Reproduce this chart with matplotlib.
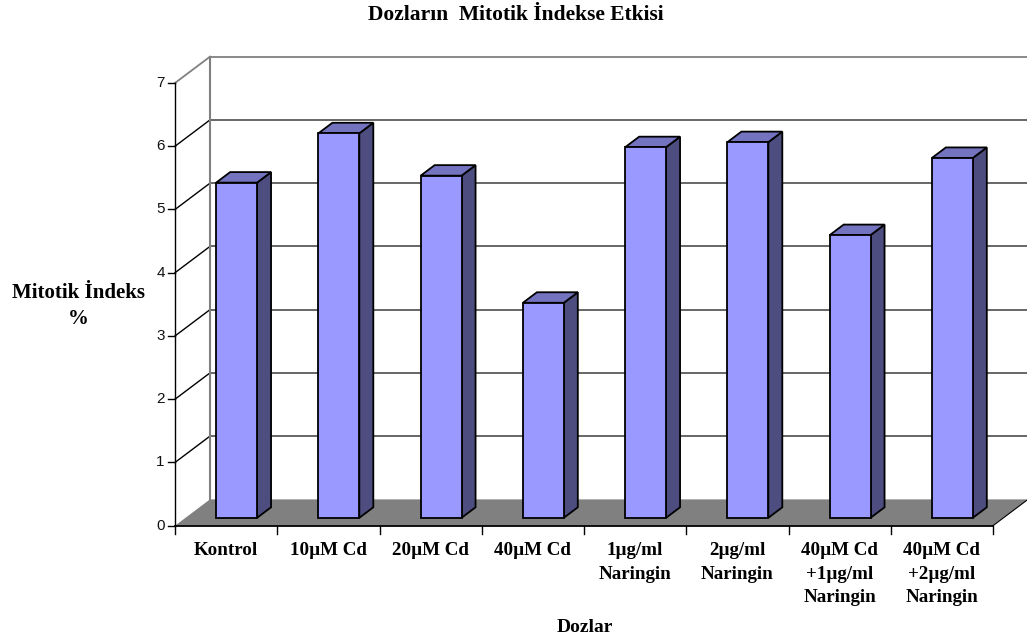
import matplotlib
matplotlib.use("Agg")
import matplotlib.pyplot as plt
from matplotlib.patches import Polygon

# mitotic index (%) for each dose group
categories = ["Kontrol", "10µM Cd", "20µM Cd", "40µM Cd", "1µg/ml\nNaringin",
              "2µg/ml\nNaringin", "40µM Cd\n+1µg/ml\nNaringin", "40µM Cd\n+2µg/ml\nNaringin"]
values = [5.30, 6.08, 5.41, 3.40, 5.86, 5.94, 4.47, 5.69]
yticks = [0, 1, 2, 3, 4, 5, 6, 7]

FRONT = "#9999ff"
TOP = "#7373bf"
SIDE = "#4d4d80"
FLOOR = "#808080"
WALL = "#808080"

# depth offset of the back wall, in data units (x in category slots, y in %)
DX = 0.342
DY = 0.416
BAR_W = 0.40
D0, D1 = 0.3, 0.7  # bar front / back depth fraction

fig = plt.figure(figsize=(10.27, 6.42), dpi=100)
ax = fig.add_axes([175 / 1027, 116.3 / 642, 818 / 1027, 442.7 / 642])
ax.set_xlim(0, len(categories))
ax.set_ylim(0, 7)
ax.axis("off")

n = len(categories)
serif = dict(family="Liberation Serif", weight="bold")

# back wall gridlines and side-wall diagonals
for v in yticks[1:]:
    col = WALL if v == yticks[-1] else "#5a5a5a"
    ax.plot([DX, n + DX], [v + DY, v + DY], color=col, lw=1.3, clip_on=False, zorder=1)
    ax.plot([0, DX], [v, v + DY], color=WALL if v == yticks[-1] else "black",
            lw=1.0 if v < yticks[-1] else 1.3, clip_on=False, zorder=1)
ax.plot([DX, DX], [DY, 7 + DY], color=WALL, lw=1.5, clip_on=False, zorder=1)

# floor
ax.add_patch(Polygon([(0, 0), (n, 0), (n + DX, DY), (DX, DY)], closed=True,
                     facecolor=FLOOR, edgecolor="none", clip_on=False, zorder=2))
ax.plot([n, n + DX], [0, DY], color="black", lw=0.8, clip_on=False, zorder=2)

# 3D bars
for i, v in enumerate(values):
    c = i + 0.5
    x0 = c - BAR_W / 2 + D0 * DX
    x1 = c + BAR_W / 2 + D0 * DX
    yb = D0 * DY
    yt = v + D0 * DY
    ddx = (D1 - D0) * DX
    ddy = (D1 - D0) * DY
    kw = dict(closed=True, edgecolor="black", lw=1.3, clip_on=False, zorder=3,
              joinstyle="miter")
    ax.add_patch(Polygon([(x1, yb), (x1 + ddx, yb + ddy), (x1 + ddx, yt + ddy), (x1, yt)],
                         facecolor=SIDE, **kw))
    ax.add_patch(Polygon([(x0, yt), (x1, yt), (x1 + ddx, yt + ddy), (x0 + ddx, yt + ddy)],
                         facecolor=TOP, **kw))
    ax.add_patch(Polygon([(x0, yb), (x1, yb), (x1, yt), (x0, yt)],
                         facecolor=FRONT, **kw))

# front axes lines and ticks
ax.plot([0, 0], [0, 7], color="black", lw=1.0, clip_on=False, zorder=4)
ax.plot([0, n], [0, 0], color="black", lw=1.3, clip_on=False, zorder=4)
for v in yticks:
    ax.plot([-0.065, 0], [v, v], color="black", lw=1.0, clip_on=False, zorder=4)
    ax.text(-0.1, v, str(v), ha="right", va="center", family="Liberation Sans",
            fontsize=11, color="#111111")
for i in range(n + 1):
    ax.plot([i, i], [0, -0.13], color="black", lw=1.0, clip_on=False, zorder=4)

for i, lab in enumerate(categories):
    ax.text(i + 0.5, -0.26, lab, ha="center", va="top", linespacing=1.5,
            fontsize=13.7, **serif)

fig.text(516 / 1027, 1 - 15 / 642, "Dozların  Mitotik İndekse Etkisi",
         ha="center", va="center", fontsize=15.5, **serif)
fig.text(78 / 1027, 1 - 306 / 642, "Mitotik İndeks\n%", ha="center", va="center",
         linespacing=1.45, fontsize=15, **serif)
fig.text(585 / 1027, 1 - 628 / 642, "Dozlar", ha="center", va="center",
         fontsize=14, **serif)

fig.savefig("out.png", dpi=100)
